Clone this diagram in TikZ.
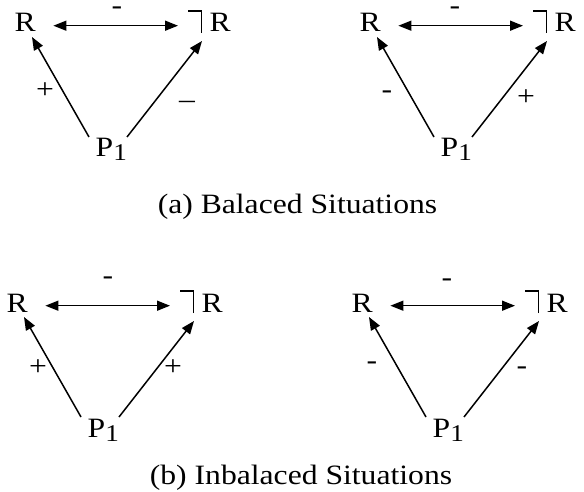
\documentclass[tikz,border=0pt]{standalone}
\usepackage{fontspec}
\setmainfont[FakeStretch=1.13]{Liberation Serif}
\usetikzlibrary{arrows.meta}
\newcommand{\negsym}{\rule[20.4pt]{14pt}{1.6pt}\hspace{-1.6pt}\rule[-1pt]{1.6pt}{23pt}}
\newcommand{\negR}{\negsym\hspace{7.5pt}R}
\newcommand{\Pone}{P\raisebox{-4pt}{\fontsize{24}{24}\selectfont 1}}
\begin{document}
\begin{tikzpicture}[x=1pt,y=-1pt,
  lbl/.style={inner sep=0pt,anchor=base,font=\fontsize{28}{34}\selectfont},
  txt/.style={inner sep=0pt,anchor=base west,font=\fontsize{28}{34}\selectfont},
  arr/.style={line width=1.5pt,-{Triangle[length=13pt,width=10pt]}},
  darr/.style={line width=1.5pt,{Triangle[length=13pt,width=10pt]}-{Triangle[length=13pt,width=10pt]}}]
\useasboundingbox (0,0) rectangle (584,492);
% top left
\begin{scope}
\node[txt] (Ra) at (14.5,32) {R};
\node[txt] (Na) at (188,32) {\negR};
\node[txt] (Pa) at (95.5,157) {\Pone};
\draw[darr] ([shift={(17.4pt,6.3pt)}]Ra.base east) -- ([shift={(-10pt,6.3pt)}]Na.base west);
\draw[arr] ([shift={(-6.5pt,20pt)}]Pa.base west) -- ([shift={(17.5pt,-5pt)}]Ra.base west);
\draw[arr] ([shift={(31.5pt,20pt)}]Pa.base west) -- ([shift={(14pt,-9pt)}]Na.base west);
\node[lbl] (ta) at (117,15) {-};
\node[lbl] (la) at (45,98.5) {+};
\node[lbl] (ra) at (187,108.5) {–};
\end{scope}
% top right
\begin{scope}[shift={(345,0)}]
\node[txt] (Rb) at (14.5,32) {R};
\node[txt] (Nb) at (188,32) {\negR};
\node[txt] (Pb) at (95.5,157) {\Pone};
\draw[darr] ([shift={(17.4pt,6.3pt)}]Rb.base east) -- ([shift={(-10pt,6.3pt)}]Nb.base west);
\draw[arr] ([shift={(-6.5pt,20pt)}]Pb.base west) -- ([shift={(17.5pt,-5pt)}]Rb.base west);
\draw[arr] ([shift={(31.5pt,20pt)}]Pb.base west) -- ([shift={(14pt,-9pt)}]Nb.base west);
\node[lbl] (tb) at (110,15) {-};
\node[lbl] (lb) at (42,98.5) {-};
\node[lbl] (rb) at (181,105.5) {+};
\end{scope}
% bottom left
\begin{scope}[shift={(-8,280)}]
\node[txt] (Rc) at (14.5,32) {R};
\node[txt] (Nc) at (188,32) {\negR};
\node[txt] (Pc) at (95.5,157) {\Pone};
\draw[darr] ([shift={(17.4pt,6.3pt)}]Rc.base east) -- ([shift={(-10pt,6.3pt)}]Nc.base west);
\draw[arr] ([shift={(-6.5pt,20pt)}]Pc.base west) -- ([shift={(17.5pt,-5pt)}]Rc.base west);
\draw[arr] ([shift={(31.5pt,20pt)}]Pc.base west) -- ([shift={(14pt,-9pt)}]Nc.base west);
\node[lbl] (tc) at (116,4.5) {-};
\node[lbl] (lc) at (46,95.5) {+};
\node[lbl] (rc) at (181,95.5) {+};
\end{scope}
% bottom right
\begin{scope}[shift={(337,280)}]
\node[txt] (Rd) at (14.5,32) {R};
\node[txt] (Nd) at (188,32) {\negR};
\node[txt] (Pd) at (95.5,157) {\Pone};
\draw[darr] ([shift={(17.4pt,6.3pt)}]Rd.base east) -- ([shift={(-10pt,6.3pt)}]Nd.base west);
\draw[arr] ([shift={(-6.5pt,20pt)}]Pd.base west) -- ([shift={(17.5pt,-5pt)}]Rd.base west);
\draw[arr] ([shift={(31.5pt,20pt)}]Pd.base west) -- ([shift={(14pt,-9pt)}]Nd.base west);
\node[lbl] (td) at (110,6.5) {-};
\node[lbl] (ld) at (35,89.5) {-};
\node[lbl] (rd) at (185,94.5) {-};
\end{scope}
\node[lbl] (capa) at (297.5,213) {(a) Balaced Situations};
\node[lbl] (capb) at (301,484) {(b) Inbalaced Situations};
\end{tikzpicture}
\end{document}
